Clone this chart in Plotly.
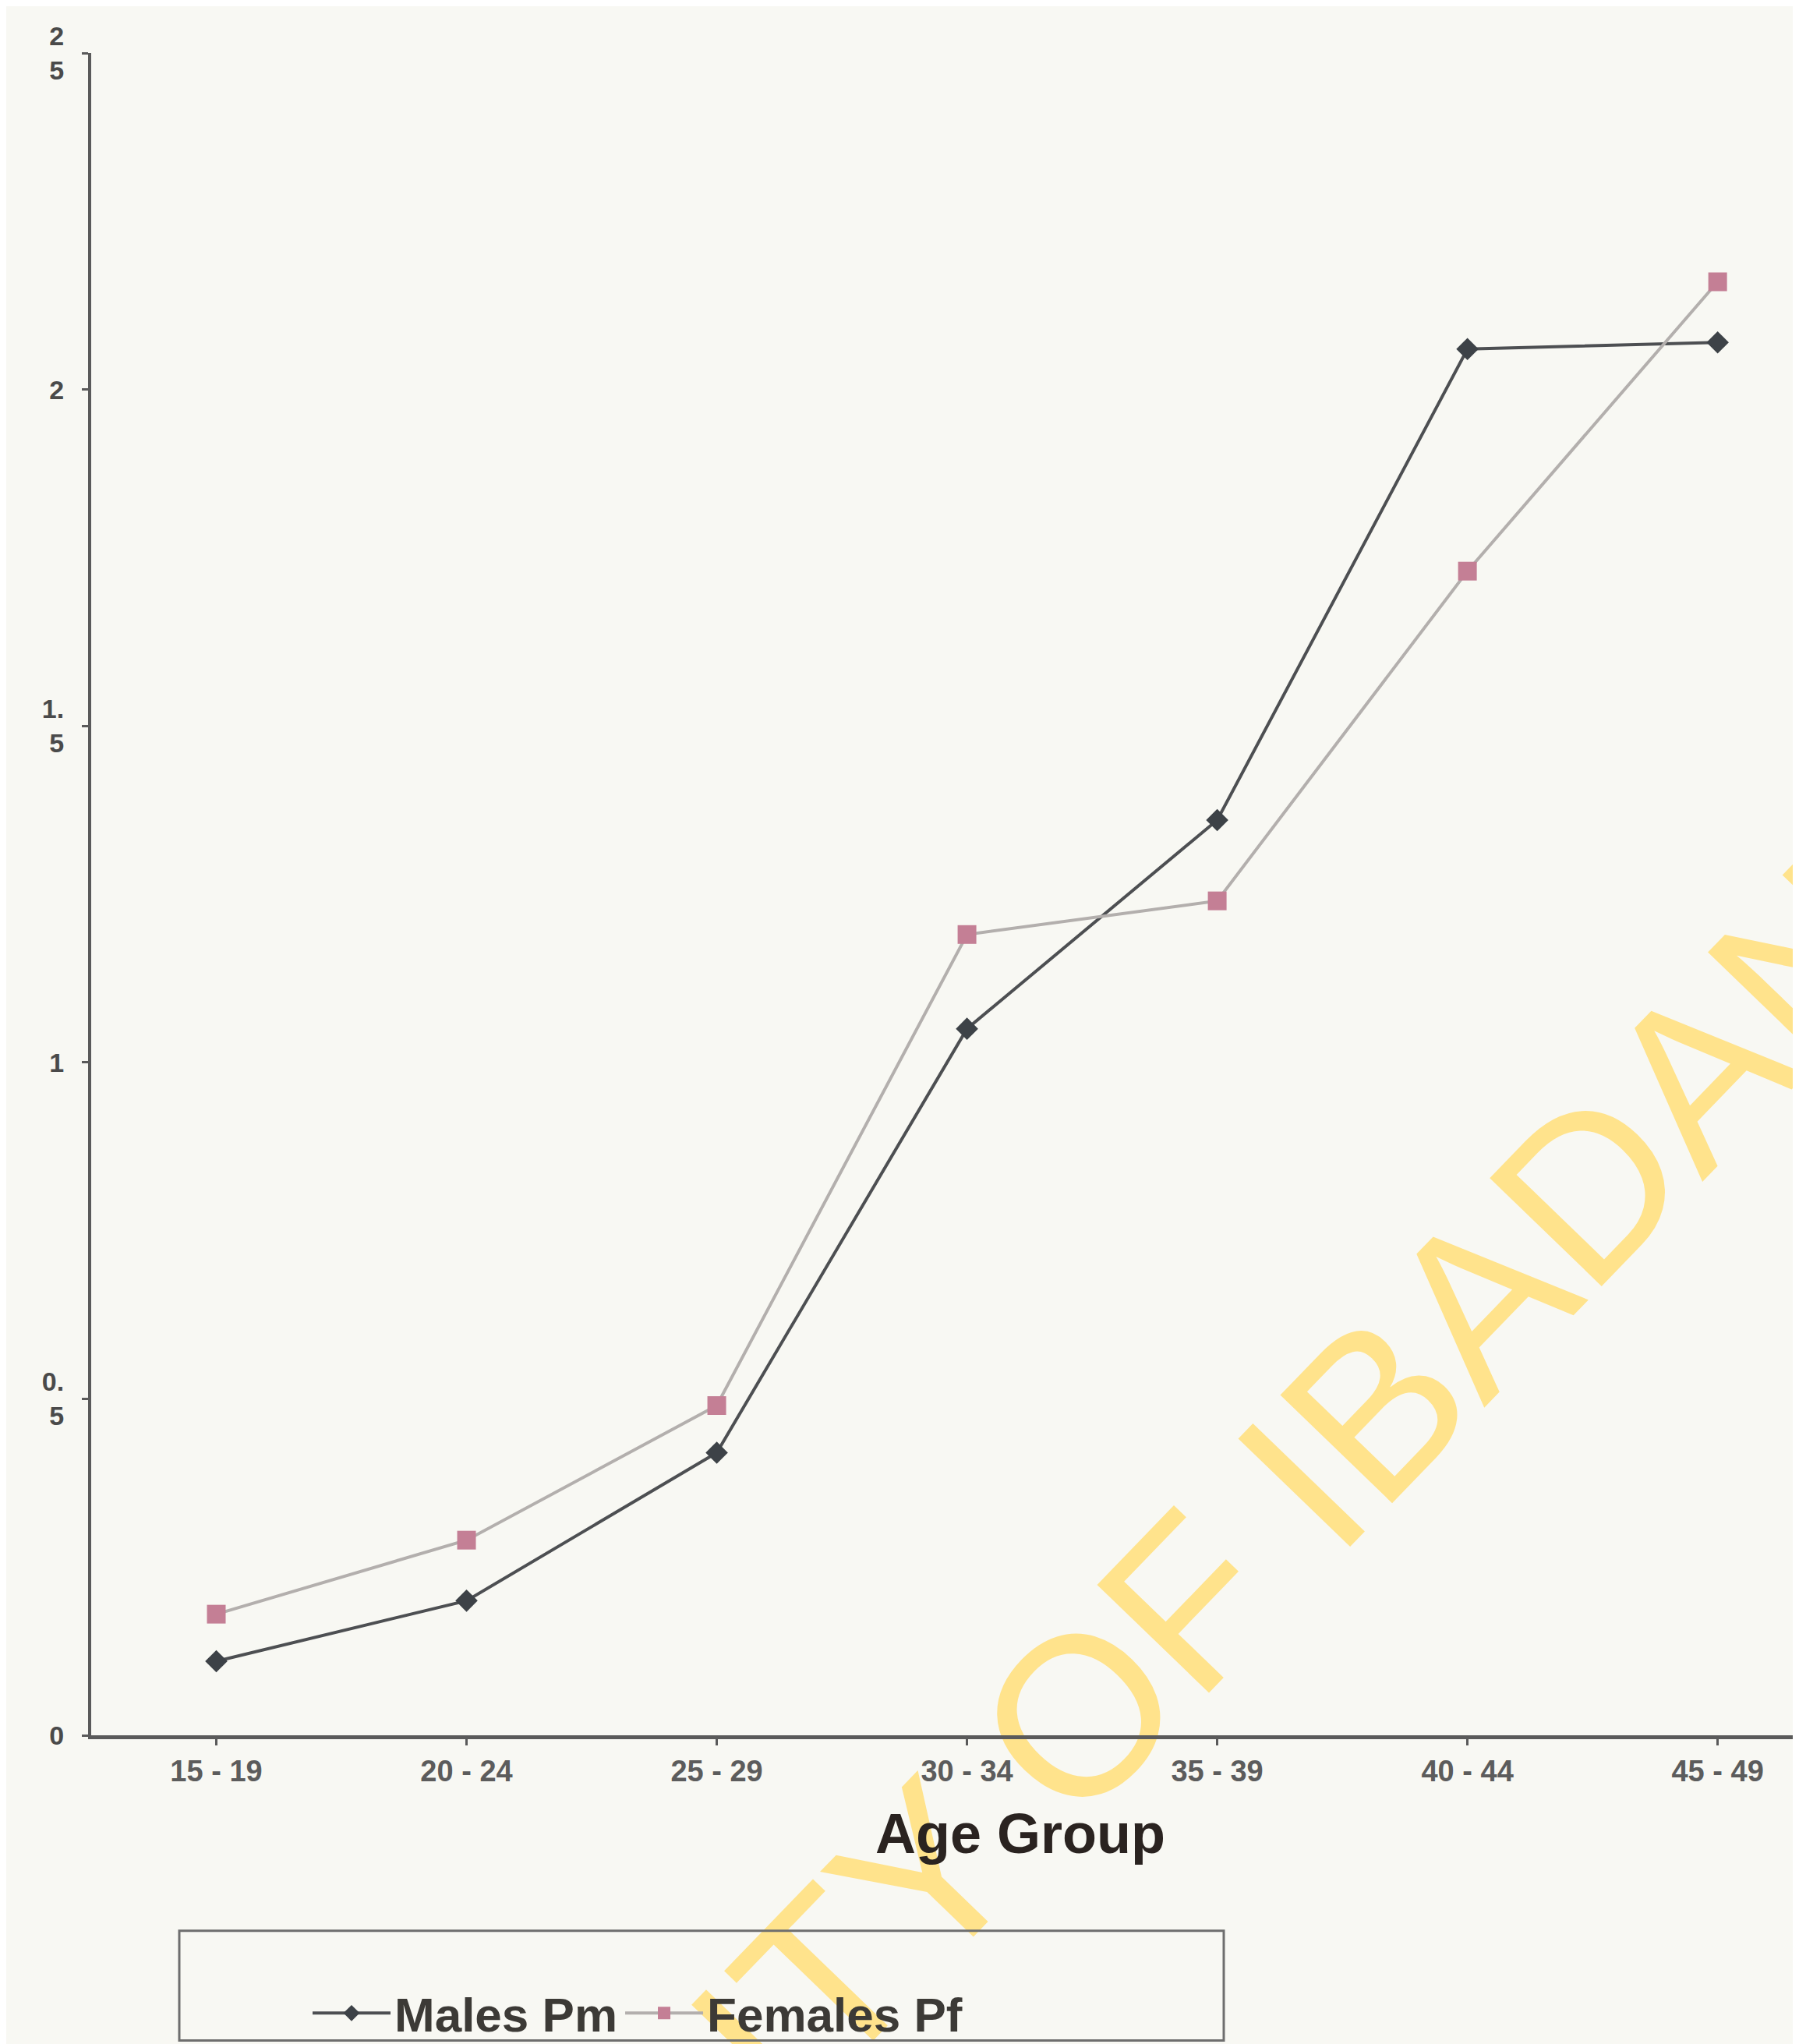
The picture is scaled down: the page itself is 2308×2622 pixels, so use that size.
import plotly.graph_objects as go

age_groups = ["15 - 19", "20 - 24", "25 - 29", "30 - 34", "35 - 39", "40 - 44", "45 - 49"]
males_pm = [0.11, 0.20, 0.42, 1.05, 1.36, 2.06, 2.07]
females_pf = [0.18, 0.29, 0.49, 1.19, 1.24, 1.73, 2.16]
y_tickvals = [0, 0.5, 1, 1.5, 2, 2.5]
y_ticktext = ["0", "0.<br>5", "1", "1.<br>5", "2", "2<br>5"]

W, H = 2308, 2622
L, R, T, B = 109, 0, 60, 401
PW, PH = W - L - R, H - T - B

def px(x):
    return (x - L) / PW

def py(y):
    return (H - B - y) / PH

FONT = "Arial, Liberation Sans, sans-serif"

fig = go.Figure()
fig.add_trace(go.Scatter(
    x=age_groups, y=males_pm, name="Males Pm", mode="lines+markers",
    line=dict(color="#4d4f52", width=4),
    marker=dict(symbol="diamond", size=22, color="#3d4247"),
))
fig.add_trace(go.Scatter(
    x=age_groups, y=females_pf, name="Females Pf", mode="lines+markers",
    line=dict(color="#b3afad", width=4),
    marker=dict(symbol="square", size=24, color="#c47f95"),
))

# watermark (below everything) via a transparent line shape with a label
cx, cy = 1190, 2348
d = 600
fig.add_shape(
    type="line", xref="paper", yref="paper", layer="below",
    x0=px(cx - d), y0=py(cy + d), x1=px(cx + d), y1=py(cy - d),
    line=dict(color="rgba(0,0,0,0)", width=0),
    label=dict(text="UNIVERSITY OF IBADAN", textangle=-46, textposition="middle",
               yanchor="middle",
               font=dict(family=FONT, size=290, color="#ffe38c")),
)

# legend box
fig.add_shape(
    type="rect", xref="paper", yref="paper",
    x0=px(222), x1=px(1562), y0=py(2613), y1=py(2472),
    line=dict(color="#6e6e6e", width=3), fillcolor="rgba(0,0,0,0)",
)

fig.add_annotation(
    text="<b>Age Group</b>", xref="paper", yref="paper",
    x=px(1301), y=py(2347), xanchor="center", yanchor="middle",
    showarrow=False, font=dict(family=FONT, size=72, color="#2a2320"),
)

fig.update_layout(
    width=W, height=H,
    margin=dict(l=L, r=R, t=T, b=B),
    paper_bgcolor="#f8f8f3", plot_bgcolor="#f8f8f3",
    showlegend=True,
    legend=dict(
        orientation="h", x=px(388), y=py(2578), xanchor="left", yanchor="middle",
        bgcolor="rgba(0,0,0,0)", borderwidth=0, itemwidth=100,
        font=dict(family=FONT, size=62, color="#3c3a36", weight="bold"),
        tracegroupgap=0,
    ),
    xaxis=dict(
        type="category", range=[-0.5, 6.35],
        showline=True, linecolor="#5a5a5a", linewidth=5,
        showgrid=False, zeroline=False,
        ticks="outside", ticklen=8, tickwidth=3, tickcolor="#5a5a5a",
        tickfont=dict(family=FONT, size=38, color="#5c5c5c", weight="bold"),
    ),
    yaxis=dict(
        range=[0, 2.5], tickvals=y_tickvals, ticktext=y_ticktext,
        showline=True, linecolor="#5a5a5a", linewidth=4,
        showgrid=False, zeroline=False,
        ticks="outside", ticklen=8, tickwidth=3, tickcolor="#5a5a5a",
        ticklabelstandoff=16,
        tickfont=dict(family=FONT, size=34, color="#4a4a4a", weight="bold"),
    ),
)

fig.write_html("out.html")
